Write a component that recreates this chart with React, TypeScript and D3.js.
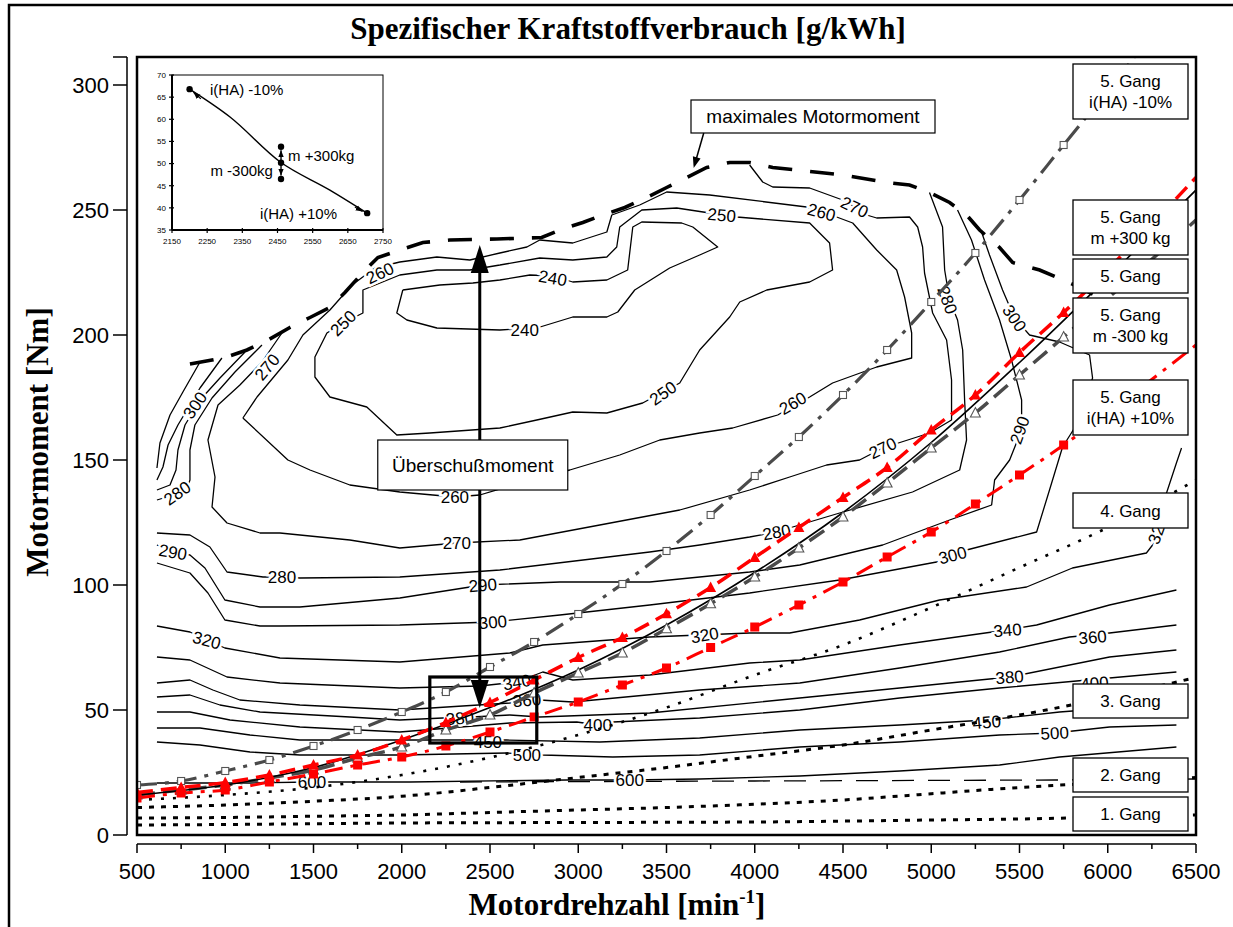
import React from "react";
import * as d3 from "d3";

type P = [number, number];

const SANS = "'Liberation Sans', Arial, Helvetica, sans-serif";
const SERIF = "'Liberation Serif', 'Times New Roman', Times, serif";

const RPM_TICKS = [500, 1000, 1500, 2000, 2500, 3000, 3500, 4000, 4500, 5000, 5500, 6000, 6500];
const RPM_MINOR = [750, 1250, 1750, 2250, 2750, 3250, 3750, 4250, 4750, 5250, 5750, 6250];
const TORQUE_TICKS = [0, 50, 100, 150, 200, 250, 300];

const MAX_TORQUE: P[] = [[800,188.4],[925,190],[998,191],[1123,194],[1242,198],[1366,203],[1480,207],[1593,211],[1678,217],[1780,225],[1865,231],[1989,234],[2120,237],[2272,238],[2539,238.4],[2793,239],[2895,242],[3026,245],[3139,248],[3264,251],[3388,255],[3501,259],[3615,263],[3728,267],[3858,269],[3971,269],[4102,267],[4238,266],[4368,265],[4498,264],[4747,261],[4877,260],[4991,257],[5104,253],[5200,248],[5274,242],[5387,235],[5461,229],[5614,226],[5812,220],[5953,215]];

const C240: P[] = [[2006,218],[2216,220],[2403,220.8],[2556,222],[2726,224],[2856,223.6],[2969,221.2],[3162,222],[3280,226],[3309,243.2],[3360,245.2],[3586,244.8],[3649,243.2],[3790,235.2],[3688,232],[3518,226.8],[3320,218],[3224,209.2],[3162,207.2],[2969,207.2],[2765,202.8],[2556,202],[2199,202.8],[2029,206],[1972,208.8],[2006,218]];
const C250: P[] = [[2556,228],[2782,230.8],[2969,230],[3162,231.2],[3218,235.2],[3235,243.2],[3360,250],[3558,250.8],[3745,248.8],[3898,247.2],[4311,244.8],[4424,236.8],[4441,226],[4311,221.2],[4068,218],[3915,213.2],[3858,207.2],[3688,194],[3575,180.8],[3365,172.8],[3162,168.8],[2969,169.2],[2765,166],[2556,162.8],[2159,160.8],[1972,160],[1802,171.2],[1593,175.2],[1508,183.2],[1508,191.2],[1576,200.8],[1667,204.8],[1780,208.8],[1780,218],[1989,224],[2199,226],[2386,226],[2556,228]];
const C260: P[] = [[1100,166.8],[1180,175.2],[1355,190],[1440,200],[1593,210],[1718,220],[1848,226.8],[1989,229.2],[2199,231.2],[2386,230],[2556,232.8],[2709,235.2],[2782,238],[2969,236.8],[3162,241.2],[3190,248],[3348,252],[3501,257.2],[3745,256],[4294,251.2],[4464,247.2],[4555,244.8],[4691,234],[4804,226],[4849,215.2],[4889,200.8],[4889,190.8],[4691,187.2],[4441,180.8],[4311,175.2],[4130,168],[3875,162.8],[3688,160.8],[3462,158],[3235,152],[2952,146],[2726,142],[2442,136],[2301,135.2],[1989,137.2],[1706,140],[1480,146],[1355,150],[1100,166.8]];
const C270: P[] = [[1321,200.8],[1208,189.2],[1083,180],[959,172],[902,158],[942,143.2],[925,131.2],[1010,124.8],[1197,120.8],[1310,120.8],[1706,118],[1989,114.8],[2312,116.8],[2669,118],[3122,124],[3575,130],[3971,138],[4198,143.2],[4407,148],[4594,150],[4725,154.8],[4991,160.8],[5115,166],[5115,182],[5087,198],[5008,208.8],[4962,224.8],[4951,235.2],[4923,243.2],[4877,247.2],[4691,246.8],[4634,248],[4566,251.2],[4498,254],[4311,258.8],[4102,259.2],[4045,261.2],[3971,268]];
const C280: P[] = [[4990,257],[5064,243.2],[5076,226],[5104,214],[5149,206],[5178,194],[5189,174],[5200,158],[5161,146],[4894,137.2],[4481,128.8],[4215,123.2],[4124,121.2],[3971,119.2],[3688,116],[3405,113.2],[3122,110.8],[2556,106],[1989,103.2],[1423,102.8],[1321,103.2],[1214,103.2],[1010,105.2],[913,115.2],[800,120],[613,120.8]];
const C290: P[] = [[5149,250],[5228,238],[5302,222],[5387,206],[5455,190],[5512,174],[5512,162],[5444,150],[5359,142],[5342,132],[5104,126],[4725,116],[4255,108],[3971,105.2],[3405,101.2],[2896,101.2],[2459,100],[1989,94.8],[1423,91.2],[1197,91.2],[998,94],[885,106.8],[800,112],[704,113.2],[613,116]];
const C300: P[] = [[5285,241.2],[5330,232],[5404,218],[5472,206.8],[5557,200],[5727,197.2],[5897,192],[5914,182.8],[5840,166],[5744,155.2],[5670,138],[5597,121.2],[5200,114],[5121,112],[5030,109.2],[4481,102],[3971,96.8],[3405,92],[2896,88],[2516,85.2],[1989,84],[1310,83.6],[1197,83.6],[998,86],[902,96.8],[800,104.8],[613,108.8]];
const U310: P[] = [[857,189.2],[760,177.2],[687,168],[630,156.8],[613,146.8]];
const U300: P[] = [[981,190.8],[857,178.8],[800,172],[732,164],[676,156],[647,147.2],[613,142]];
const U290: P[] = [[1112,193.2],[970,182.8],[857,174],[772,164],[732,154],[721,146],[687,140],[613,138]];
const U280: P[] = [[1208,196],[1055,185.2],[925,174.8],[828,164],[800,154],[800,142],[777,137.2],[687,135.6],[613,134]];
const C320: P[] = [[613,83.6],[800,81.2],[896,78],[998,74.8],[1310,70.8],[1989,69.2],[2612,72.8],[2799,76],[3405,79.2],[3971,80.8],[4198,80.8],[4594,86],[5047,94],[5540,99.2],[5800,106.8],[6219,112.8],[6276,118],[6333,136.8],[6389,148.8],[6418,154.8]];
const C340: P[] = [[613,71.2],[800,70],[1010,63.2],[1310,60.8],[1989,58.8],[2442,59.6],[2652,61.2],[2799,65.2],[2969,62],[3405,64],[3971,68.8],[4255,70],[4821,76],[5427,82],[5597,84],[6010,92],[6389,98]];
const C360: P[] = [[613,60.8],[800,62],[930,58],[1083,54],[1423,52],[1989,50],[2612,52.8],[2782,54],[2969,53.2],[3688,58],[4255,60.8],[4821,66.8],[5387,73.2],[5784,79.2],[6010,80.8],[6389,84]];
const C380: P[] = [[613,55.2],[800,56],[970,52],[1197,49.2],[1706,47.2],[1989,46],[2233,46.8],[2397,47.2],[2612,48],[2782,47.2],[3405,48.8],[4255,54.8],[4821,58.8],[5444,63.2],[6010,71.2],[6389,74]];
const C400: P[] = [[613,49.2],[800,49.2],[1027,46],[1423,43.2],[1989,41.2],[2612,44.8],[2992,45.2],[3110,44],[3196,45.2],[3688,46.8],[4255,50],[4821,54.8],[5387,58.8],[6010,62.8],[6389,65.2]];
const C450: P[] = [[613,42.8],[857,42.8],[1140,40],[1423,38],[1989,38],[2369,38],[2595,38],[3122,37.2],[3688,38.8],[4255,42],[4821,44],[5314,46],[5727,49.2],[6389,52.8]];
const C500: P[] = [[613,37.2],[857,36],[1140,33.2],[1423,32],[1989,32],[2595,32.8],[2799,32],[3196,31.2],[3688,32],[4255,35.2],[4821,37.2],[5387,40],[5699,40.8],[6010,43.2],[6389,44]];
const C600: P[] = [[613,20.8],[1140,20.8],[1491,21.2],[2046,21.2],[2935,22],[3292,22],[3688,22.4],[4255,23.6],[4821,25.6],[5387,28],[5727,31.2],[6389,35.2]];
const C600_DASHED: P[] = [[2330,21.2],[4000,21.6],[5700,22],[6500,22.4]];

const CONTOURS: P[][] = [C240, C250, C260, C270, C280, C290, C300, U310, U300, U290, U280, C320, C340, C360, C380, C400, C450, C500, C600];

// label text, rpm, torque
const CONTOUR_LABELS: [string, number, number][] = [
  ["240", 2856, 222.8], ["240", 2697, 202],
  ["250", 3813, 248], ["250", 3479, 176.8], ["250", 1667, 204.8],
  ["260", 1876, 224.8], ["260", 4379, 249.2], ["260", 4215, 172.8], ["260", 2301, 135.2],
  ["270", 1236, 187.2], ["270", 2312, 116.8], ["270", 4725, 154.8], ["270", 4566, 251.2],
  ["280", 727, 136.8], ["280", 1321, 103.2], ["280", 4124, 121.2], ["280", 5093, 214],
  ["290", 704, 113.2], ["290", 2459, 100], ["290", 5500, 162],
  ["300", 828, 172], ["300", 2516, 85.2], ["300", 5121, 112], ["300", 5472, 206.8],
  ["320", 896, 78], ["320", 3716, 80], ["320", 6282, 122],
  ["340", 2652, 61.2], ["340", 5432, 82],
  ["360", 2709, 54], ["360", 5914, 79.2],
  ["380", 2329, 46.8], ["380", 5444, 63.2],
  ["400", 3110, 44], ["400", 5925, 60.8],
  ["450", 2488, 37.2], ["450", 5314, 45.2],
  ["500", 2709, 32], ["500", 5699, 40.8],
  ["600", 1491, 21.2], ["600", 3292, 22],
];
const LABEL_ANGLES = [10, 0, 5, -35, -45, -25, 15, -30, 0, -50, 0, -25, 25, -35, 0, -10, 70, 10, -5, -70, -55, -5, -15, 55, 15, -10, -70, -10, -5, -5, -5, -5, -5, 0, -5, 0, -5, 0, -3, 0, 0];

const RPM_STEPS = [500, 750, 1000, 1250, 1500, 1750, 2000, 2250, 2500, 2750, 3000, 3250, 3500, 3750, 4000, 4250, 4500, 4750, 5000, 5250, 5500, 5750];
const IHA_M10_T = [20, 21.6, 25.6, 30, 35.6, 42, 49.2, 57.2, 67.2, 77.2, 88.4, 100.4, 113.6, 128, 143.6, 159.2, 176, 194, 213.2, 232.8, 254, 276];
const IHA_M10_END: P = [6150, 311];
const M_PLUS_T = [17, 19, 21, 24, 28, 32, 38, 45, 53, 62, 71, 79, 88.5, 99, 111, 123, 135, 147, 162, 176, 193, 209];
const M_PLUS_END: P = [6500, 263];
const M_MINUS_T = [16, 18, 20, 22.8, 26, 30.8, 35.2, 42, 48, 56.8, 64.8, 72.8, 82.5, 92.5, 103.2, 114.8, 127.2, 140.8, 154.8, 168.8, 184, 199.2];
const M_MINUS_END: P = [6500, 246];
const IHA_P10_T = [14.8, 16.8, 18, 21.2, 24.4, 28, 31.2, 35.6, 41.2, 47.2, 53.2, 60, 66.8, 75, 83.2, 92, 101.2, 111.2, 121.2, 132.4, 144, 156];
const IHA_P10_END: P = [6500, 196];
const GANG5: P[] = [[500,16],[1000,20],[1500,27],[2000,38],[2500,51],[3000,66],[3500,84],[4000,105],[4500,129],[5000,157],[5500,189],[6000,223],[6500,258]];
const GANG4: P[] = [[500,14],[1000,16],[1500,19],[2000,24],[2500,31],[3000,40],[3500,51],[4000,64],[4500,76],[5000,91],[5500,107],[6000,123],[6500,142]];
const GANG3: P[] = [[500,11],[1000,12],[1500,13.5],[2000,15.5],[2500,19],[3000,23],[3500,27],[4000,31.5],[4500,36],[5000,42],[5500,48],[6000,55],[6500,63]];
const GANG2: P[] = [[500,6.8],[1000,7],[1500,7.5],[2000,8],[2500,9],[3000,10],[3500,11],[4000,12.3],[4500,14],[5000,16.5],[5500,19],[6000,21],[6500,23]];
const GANG1: P[] = [[500,4],[1000,4.2],[2000,4.8],[3000,5],[4000,5.2],[5000,6],[5500,6.4],[6000,7.2],[6500,8]];

// inset data
const INSET_X_TICKS = [2150, 2250, 2350, 2450, 2550, 2650, 2750];
const INSET_Y_TICKS = [35, 40, 45, 50, 55, 60, 65, 70];
const INSET_CURVE: P[] = [[2200,66.8],[2315,60.5],[2457,50.4],[2599,44],[2705,38.8]];
const INSET_DOTS: P[] = [[2200,66.8],[2460,53.8],[2460,50.2],[2460,46.5],[2705,38.8]];
const INSET_MASS: P[] = [[2460,47.3],[2460,53.0]];

// annotations (data coordinates)
const EXCESS_RPM = 2442;
const EXCESS_TOP = 236;
const EXCESS_BOTTOM = 50.8;
const ZOOM_RECT = { r0: 2159, r1: 2765, t0: 36.8, t1: 63.2 };
const MAXM_ARROW: P[] = [[3711, 280.8], [3654, 266.8]];

const LEGEND_BOXES = [
  { lines: ["5. Gang", "i(HA) -10%"], top: 64, h: 55 },
  { lines: ["5. Gang", "m +300 kg"], top: 200, h: 55 },
  { lines: ["5. Gang"], top: 259, h: 34 },
  { lines: ["5. Gang", "m -300 kg"], top: 298, h: 55 },
  { lines: ["5. Gang", "i(HA) +10%"], top: 380, h: 55 },
  { lines: ["4. Gang"], top: 493, h: 35 },
  { lines: ["3. Gang"], top: 684, h: 34 },
  { lines: ["2. Gang"], top: 758, h: 34 },
  { lines: ["1. Gang"], top: 797, h: 34 },
];

export default function App() {
  const L = 137, R = 1196, T = 57, B = 835;
  const x = d3.scaleLinear().domain([500, 6500]).range([L, R]);
  const y = d3.scaleLinear().domain([0, 300]).range([B, 85]);
  const lin = d3.line<P>().x((d) => x(d[0])).y((d) => y(d[1]));
  const smooth = d3.line<P>().x((d) => x(d[0])).y((d) => y(d[1])).curve(d3.curveMonotoneX);

  const series = (vals: number[], end: P): P[] => [...RPM_STEPS.map((r, i) => [r, vals[i]] as P), end];
  const stepPts = (vals: number[]): P[] => RPM_STEPS.map((r, i) => [r, vals[i]] as P);

  const ix = d3.scaleLinear().domain([2150, 2750]).range([172, 383]);
  const iy = d3.scaleLinear().domain([35, 70]).range([230, 75]);
  const iline = d3.line<P>().x((d) => ix(d[0])).y((d) => iy(d[1])).curve(d3.curveMonotoneX);

  const tri = (cx: number, cy: number, s: number) =>
    `M${cx},${cy - s * 0.6}L${cx + s * 0.55},${cy + s * 0.45}L${cx - s * 0.55},${cy + s * 0.45}Z`;

  const ex = x(EXCESS_RPM);
  const eTop = y(EXCESS_TOP);
  const eBot = y(EXCESS_BOTTOM);

  const ma0 = [x(MAXM_ARROW[0][0]), y(MAXM_ARROW[0][1])];
  const ma1 = [x(MAXM_ARROW[1][0]), y(MAXM_ARROW[1][1])];
  const mang = Math.atan2(ma1[1] - ma0[1], ma1[0] - ma0[0]);
  const ahead = (tx: number, ty: number, ang: number, len: number, wid: number) => {
    const bx = tx - Math.cos(ang) * len, by = ty - Math.sin(ang) * len;
    const px = -Math.sin(ang) * wid, py = Math.cos(ang) * wid;
    return `M${tx},${ty}L${bx + px},${by + py}L${bx - px},${by - py}Z`;
  };

  return (
    <svg width={1233} height={927} style={{ position: "absolute", left: 0, top: 0, background: "#fff" }}>
      <defs>
        <clipPath id="plotclip">
          <rect x={L} y={T} width={R - L} height={B - T} />
        </clipPath>
        <marker id="iarr" viewBox="0 0 10 10" refX="10" refY="5" markerWidth="7" markerHeight="7" orient="auto-start-reverse" markerUnits="userSpaceOnUse">
          <path d="M0,1L10,5L0,9Z" fill="#000" />
        </marker>
      </defs>
      <rect x={0} y={0} width={1233} height={927} fill="#fff" />
      {/* outer frame */}
      <rect x={9} y={5} width={1300} height={1000} fill="none" stroke="#000" strokeWidth={2.5} />

      {/* title */}
      <text x={628} y={39} textAnchor="middle" fontFamily={SERIF} fontWeight="bold" fontSize={31}>
        Spezifischer Kraftstoffverbrauch [g/kWh]
      </text>

      <g clipPath="url(#plotclip)">
        {/* contours */}
        {CONTOURS.map((c, i) => (
          <path key={"c" + i} d={lin(c) || ""} fill="none" stroke="#000" strokeWidth={1.3} strokeLinejoin="round" />
        ))}
        <path d={lin(C600_DASHED) || ""} fill="none" stroke="#000" strokeWidth={1.3} strokeDasharray="22,14" />
        {CONTOUR_LABELS.map(([txt, r, t], i) => (
          <text key={"l" + i} transform={`translate(${x(r)},${y(t)}) rotate(${LABEL_ANGLES[i]})`} textAnchor="middle" dy="0.36em"
            fontFamily={SANS} fontSize={17} fill="#000" stroke="#fff" strokeWidth={5} paintOrder="stroke">{txt}</text>
        ))}

        {/* gear lines 1-4 */}
        {[GANG1, GANG2, GANG3].map((g, i) => (
          <path key={"g" + i} d={smooth(g) || ""} fill="none" stroke="#000" strokeWidth={3} strokeDasharray="5,7" />
        ))}
        <path d={smooth(GANG4) || ""} fill="none" stroke="#000" strokeWidth={2.6} strokeDasharray="3,9" />

        {/* 5th gear variants */}
        <path d={smooth(series(IHA_M10_T, IHA_M10_END)) || ""} fill="none" stroke="#4a4a4a" strokeWidth={3.2} strokeDasharray="20,8,4,8" />
        <path d={smooth(series(M_MINUS_T, M_MINUS_END)) || ""} fill="none" stroke="#4a4a4a" strokeWidth={3.5} strokeDasharray="18,8" />
        <path d={smooth(GANG5) || ""} fill="none" stroke="#000" strokeWidth={1.6} />
        <path d={smooth(series(M_PLUS_T, M_PLUS_END)) || ""} fill="none" stroke="#ff0000" strokeWidth={3.5} strokeDasharray="16,8" />
        <path d={smooth(series(IHA_P10_T, IHA_P10_END)) || ""} fill="none" stroke="#ff0000" strokeWidth={3} strokeDasharray="18,8,4,8" />

        {stepPts(IHA_M10_T).map((d, i) => (
          <rect key={"sq" + i} x={x(d[0]) - 3.5} y={y(d[1]) - 3.5} width={7} height={7} fill="#fff" stroke="#555" strokeWidth={1.1} />
        ))}
        {stepPts(M_MINUS_T).map((d, i) => (
          <path key={"ot" + i} d={tri(x(d[0]), y(d[1]), 9)} fill="#fff" stroke="#555" strokeWidth={1.1} />
        ))}
        {stepPts(M_PLUS_T).map((d, i) => (
          <path key={"rt" + i} d={tri(x(d[0]), y(d[1]), 10)} fill="#ff0000" />
        ))}
        {stepPts(IHA_P10_T).map((d, i) => (
          <rect key={"rs" + i} x={x(d[0]) - 4.5} y={y(d[1]) - 4.5} width={9} height={9} fill="#ff0000" />
        ))}

        {/* max torque */}
        <path d={lin(MAX_TORQUE) || ""} fill="none" stroke="#000" strokeWidth={3.6} strokeDasharray="24,18" />
      </g>

      {/* plot frame */}
      <rect x={L} y={T} width={R - L} height={B - T} fill="none" stroke="#000" strokeWidth={2.5} />

      {/* y axis */}
      <line x1={127} x2={127} y1={T} y2={B} stroke="#000" strokeWidth={1.5} />
      <line x1={113} x2={127} y1={T} y2={T} stroke="#000" strokeWidth={1.5} />
      {TORQUE_TICKS.map((t) => (
        <g key={"yt" + t}>
          <line x1={113} x2={127} y1={y(t)} y2={y(t)} stroke="#000" strokeWidth={1.5} />
          <text x={109} y={y(t)} dy="0.35em" textAnchor="end" fontFamily={SANS} fontSize={22}>{t}</text>
        </g>
      ))}
      {/* x axis */}
      <line x1={L} x2={R} y1={844} y2={844} stroke="#000" strokeWidth={1.5} />
      {RPM_TICKS.map((r) => (
        <g key={"xt" + r}>
          <line x1={x(r)} x2={x(r)} y1={844} y2={853} stroke="#000" strokeWidth={1.5} />
          <text x={x(r)} y={879} textAnchor="middle" fontFamily={SANS} fontSize={22}>{r}</text>
        </g>
      ))}
      {RPM_MINOR.map((r) => (
        <line key={"xm" + r} x1={x(r)} x2={x(r)} y1={844} y2={849} stroke="#000" strokeWidth={1.5} />
      ))}

      {/* axis titles */}
      <text transform="translate(48,442) rotate(-90)" textAnchor="middle" fontFamily={SERIF} fontWeight="bold" fontSize={31}>
        Motormoment [Nm]
      </text>
      <text x={617} y={915} textAnchor="middle" fontFamily={SERIF} fontWeight="bold" fontSize={31}>
        Motordrehzahl [min<tspan dy={-12} fontSize={19}>-1</tspan><tspan dy={12}>]</tspan>
      </text>

      {/* Ueberschussmoment arrow */}
      <line x1={ex} x2={ex} y1={eTop + 26} y2={eBot - 26} stroke="#000" strokeWidth={3} />
      <path d={ahead(ex, eTop, -Math.PI / 2, 28, 9)} fill="#000" />
      <path d={ahead(ex, eBot, Math.PI / 2, 28, 9)} fill="#000" />
      <rect x={ex - 102} y={y(148) - 25} width={190} height={50} fill="#fff" stroke="#000" strokeWidth={1.2} />
      <text x={ex - 7} y={y(148) + 7} textAnchor="middle" fontFamily={SANS} fontSize={19}>Überschußmoment</text>
      <rect x={x(ZOOM_RECT.r0)} y={y(ZOOM_RECT.t1)} width={x(ZOOM_RECT.r1) - x(ZOOM_RECT.r0)} height={y(ZOOM_RECT.t0) - y(ZOOM_RECT.t1)}
        fill="none" stroke="#000" strokeWidth={3.2} />

      {/* maximales Motormoment */}
      <rect x={691} y={100} width={244} height={33} fill="#fff" stroke="#000" strokeWidth={1.2} />
      <text x={813} y={123} textAnchor="middle" fontFamily={SANS} fontSize={19}>maximales Motormoment</text>
      <line x1={ma0[0]} y1={ma0[1]} x2={ma1[0] - Math.cos(mang) * 8} y2={ma1[1] - Math.sin(mang) * 8} stroke="#000" strokeWidth={1.5} />
      <path d={ahead(ma1[0], ma1[1], mang, 11, 4)} fill="#000" />

      {/* legend boxes */}
      {LEGEND_BOXES.map((b, i) => (
        <g key={"lb" + i}>
          <rect x={1073} y={b.top} width={115} height={b.h} fill="#fff" stroke="#000" strokeWidth={1.3} />
          {b.lines.map((s, j) => (
            <text key={j} x={1130.5} y={b.lines.length === 1 ? b.top + b.h / 2 + 6 : b.top + 23 + j * 21} textAnchor="middle" fontFamily={SANS} fontSize={17}>{s}</text>
          ))}
        </g>
      ))}

      {/* inset */}
      <g>
        <rect x={ix(2150)} y={iy(70)} width={ix(2750) - ix(2150)} height={iy(35) - iy(70)} fill="#fff" stroke="#000" strokeWidth={1} />
        <line x1={ix(2150)} x2={ix(2150)} y1={iy(70)} y2={iy(35)} stroke="#000" strokeWidth={2} />
        <line x1={ix(2150)} x2={ix(2750)} y1={iy(35)} y2={iy(35)} stroke="#000" strokeWidth={2} />
        {INSET_Y_TICKS.map((t) => (
          <g key={"iyt" + t}>
            <line x1={ix(2150) - 3} x2={ix(2150) + 2} y1={iy(t)} y2={iy(t)} stroke="#000" strokeWidth={1.2} />
            <text x={ix(2150) - 6} y={iy(t)} dy="0.35em" textAnchor="end" fontFamily={SANS} fontSize={8}>{t}</text>
          </g>
        ))}
        {INSET_X_TICKS.map((r) => (
          <g key={"ixt" + r}>
            <line x1={ix(r)} x2={ix(r)} y1={iy(35) - 2} y2={iy(35) + 3} stroke="#000" strokeWidth={1.2} />
            <text x={ix(r)} y={iy(35) + 14} textAnchor="middle" fontFamily={SANS} fontSize={8}>{r}</text>
          </g>
        ))}
        <path d={iline(INSET_CURVE) || ""} fill="none" stroke="#000" strokeWidth={1.4} />
        <path d={`M${ix(2232)},${iy(64.6)}L${ix(2211)},${iy(66.1)}`} stroke="#000" strokeWidth={1.2} markerEnd="url(#iarr)" />
        <path d={`M${ix(2670)},${iy(40.2)}L${ix(2692)},${iy(39.2)}`} stroke="#000" strokeWidth={1.2} markerEnd="url(#iarr)" />
        <path d={`M${ix(INSET_MASS[0][0])},${iy(INSET_MASS[0][1])}L${ix(INSET_MASS[1][0])},${iy(INSET_MASS[1][1])}`} stroke="#000" strokeWidth={1.4}
          markerStart="url(#iarr)" markerEnd="url(#iarr)" />
        {INSET_DOTS.map((d, i) => (
          <circle key={"id" + i} cx={ix(d[0])} cy={iy(d[1])} r={3.2} fill="#000" />
        ))}
        <text x={ix(2258)} y={iy(65.5)} fontFamily={SANS} fontSize={15}>i(HA) -10%</text>
        <text x={ix(2480)} y={iy(50.6)} fontFamily={SANS} fontSize={15}>m +300kg</text>
        <text x={ix(2437)} y={iy(47.2)} textAnchor="end" fontFamily={SANS} fontSize={15}>m -300kg</text>
        <text x={ix(2400)} y={iy(37.5)} fontFamily={SANS} fontSize={15}>i(HA) +10%</text>
      </g>
    </svg>
  );
}
